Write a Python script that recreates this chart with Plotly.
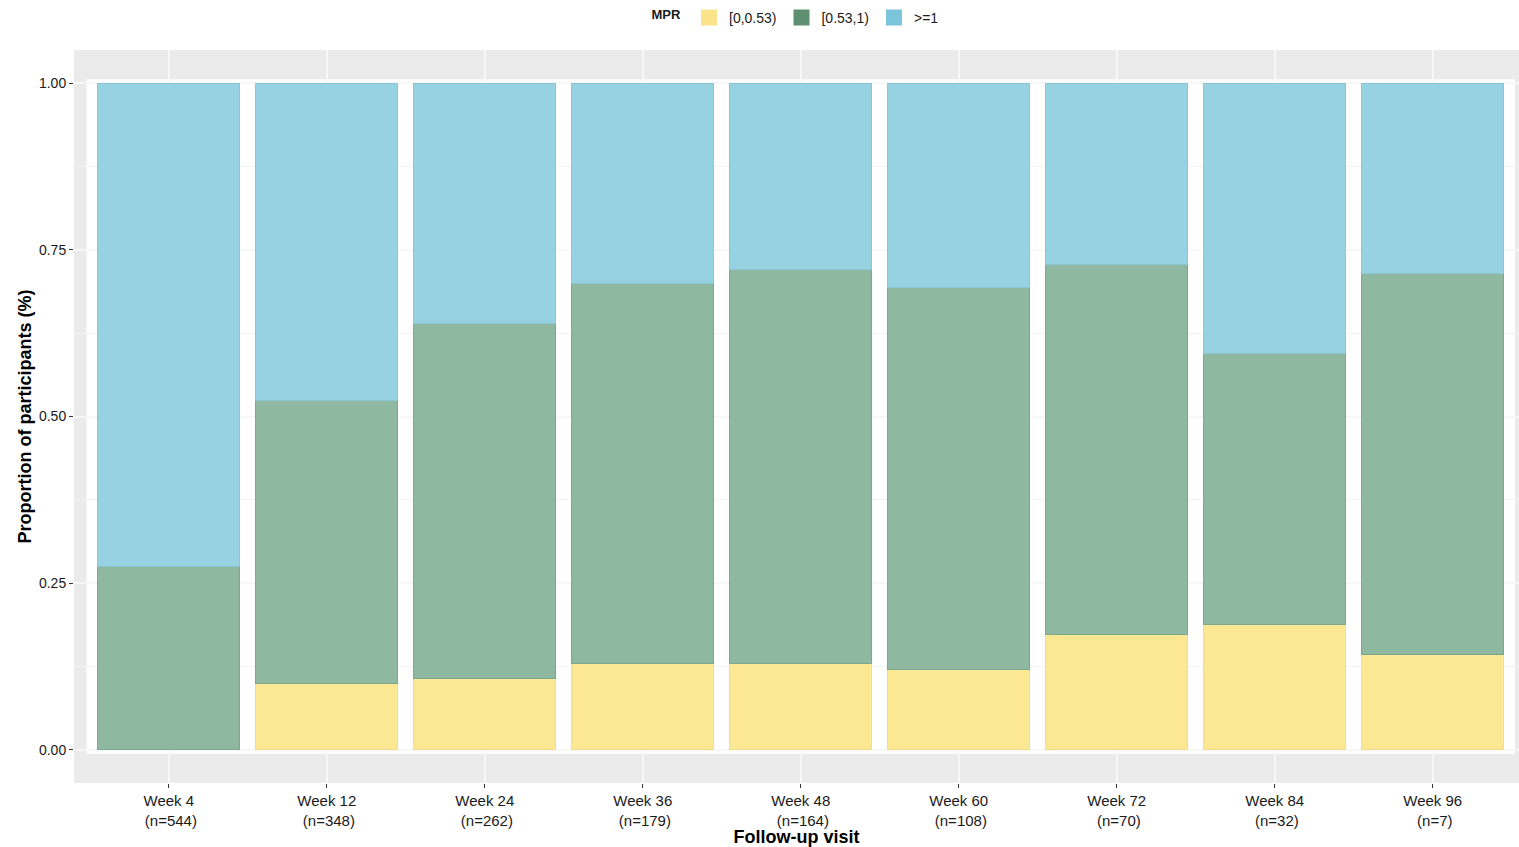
import plotly.graph_objects as go

visits = ["Week 4", "Week 12", "Week 24", "Week 36", "Week 48", "Week 60", "Week 72", "Week 84", "Week 96"]
n_counts = [544, 348, 262, 179, 164, 108, 70, 32, 7]
tick_labels = [f"{v}<br> (n={n})" for v, n in zip(visits, n_counts)]

mpr_low = [0.000, 0.100, 0.107, 0.129, 0.129, 0.120, 0.173, 0.188, 0.143]
mpr_mid = [0.275, 0.424, 0.533, 0.571, 0.592, 0.574, 0.555, 0.407, 0.572]
mpr_high = [0.725, 0.476, 0.360, 0.300, 0.279, 0.306, 0.272, 0.405, 0.285]

series_names = ["[0,0.53)", "[0.53,1)", ">=1"]
bar_colors = ["#FCE793", "#8FB8A1", "#97D2E2"]
legend_colors = ["#FBE38C", "#5E8F70", "#7CC4D9"]
edge_colors = ["#F3DD88", "#7DA88F", "#8BC6D6"]

fig = go.Figure()
for vals, name, col, edge in zip([mpr_low, mpr_mid, mpr_high], series_names, bar_colors, edge_colors):
    fig.add_trace(go.Bar(
        x=tick_labels, y=vals, name=name, marker_color=col,
        marker_line_color=edge, marker_line_width=1,
        showlegend=False, hoverinfo="x+y+name",
    ))
for name, col in zip(series_names, legend_colors):
    fig.add_trace(go.Scatter(x=[None], y=[None], name=name, mode="markers",
                             marker=dict(symbol="square", size=16, color=col),
                             showlegend=True))

# white halo behind bars
fig.add_shape(type="rect", xref="x", yref="y", x0=-0.52, x1=8.52, y0=-0.006, y1=1.006,
              fillcolor="white", line_width=0, layer="below")

fig.update_layout(
    width=1519, height=847,
    barmode="stack", bargap=0.1,
    paper_bgcolor="white", plot_bgcolor="#EBEBEB",
    margin=dict(l=74, r=0, t=50, b=64, autoexpand=False),
    font=dict(family="Liberation Sans, Arial, sans-serif", color="#1a1a1a"),
    legend=dict(
        orientation="h", x=0.5, xanchor="center", xref="paper",
        y=1 - 18 / 847, yanchor="middle", yref="container",
        title=dict(text="<b>MPR</b>", font=dict(size=13)),
        font=dict(size=14), traceorder="normal", itemwidth=30,
    ),
    xaxis=dict(
        range=[-0.6, 8.546], showgrid=True, gridcolor="#F7F7F7", gridwidth=1.5,
        ticks="outside", ticklen=4, tickcolor="#333333", tickfont=dict(size=15, color="#1a1a1a"),
        title=dict(text="<b>Follow-up visit</b>", font=dict(size=18, color="black"), standoff=0),
        zeroline=False,
    ),
    yaxis=dict(
        range=[-0.05, 1.05], tickvals=[0, 0.25, 0.5, 0.75, 1.0], tickformat=".2f",
        showgrid=True, gridcolor="#F7F7F7", gridwidth=1.5,
        minor=dict(tickvals=[0.125, 0.375, 0.625, 0.875], showgrid=True, gridcolor="#F3F3F3", gridwidth=1),
        ticks="outside", ticklen=4, tickcolor="#333333", tickfont=dict(size=14, color="#1a1a1a"),
        title=dict(text="<b>Proportion of participants (%)</b>", font=dict(size=18, color="black"), standoff=2),
        zeroline=False,
    ),
)

fig.write_html(
    "out.html",
    config={"displayModeBar": False},
    post_script="document.body.style.margin='0';document.body.style.overflow='hidden';",
)
